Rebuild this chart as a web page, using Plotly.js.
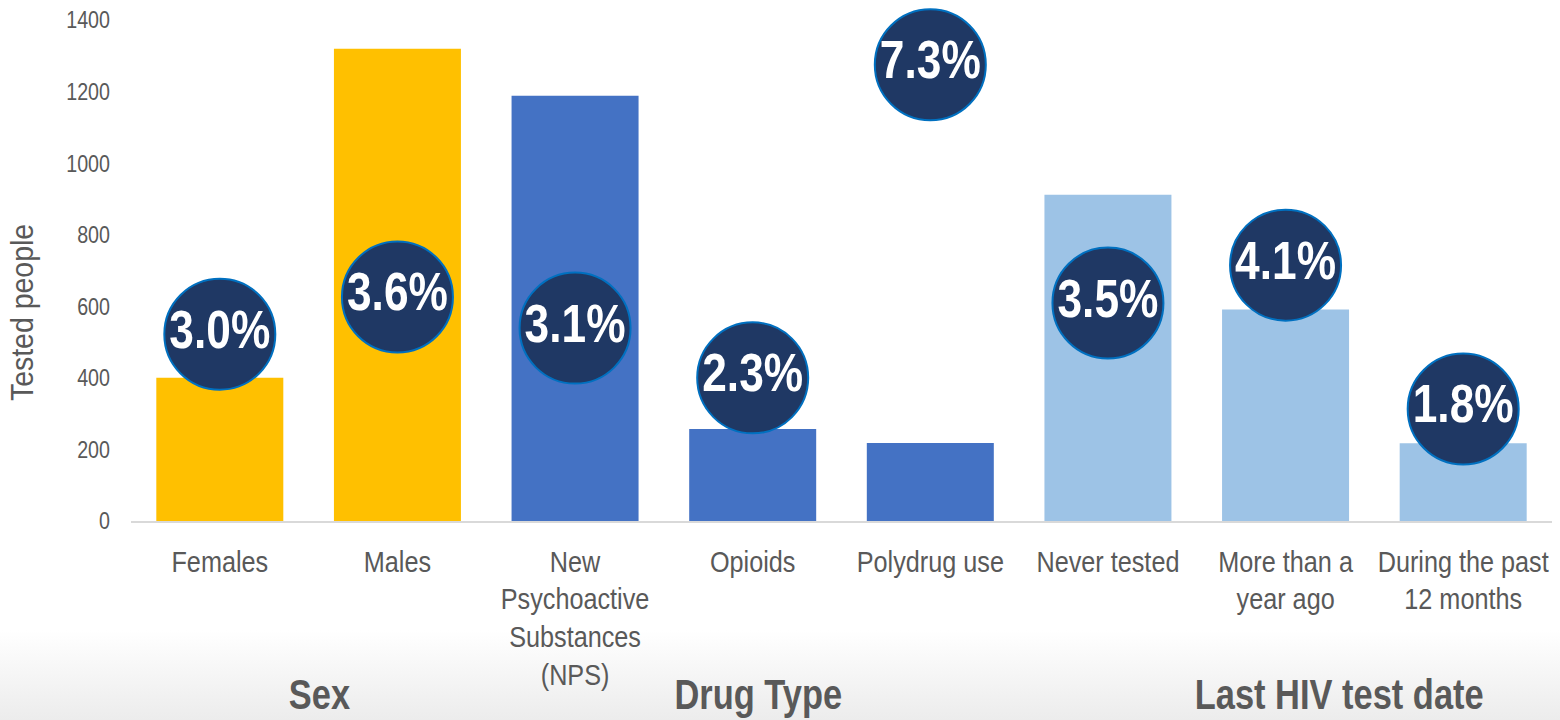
<!DOCTYPE html>
<html>
<head>
<meta charset="utf-8">
<script src="https://cdn.plot.ly/plotly-3.0.1.min.js"></script>
<style>
  html, body { margin: 0; padding: 0; }
  body {
    width: 1560px; height: 720px; overflow: hidden;
    background: linear-gradient(to bottom, #ffffff 0px, #ffffff 630px, #ececec 720px);
  }
  #chart { width: 1560px; height: 720px; }
</style>
</head>
<body>
<div id="chart"></div>
<script>
// ---- data ----
const categories = [
  "Females", "Males", "New<br>Psychoactive<br>Substances<br>(NPS)", "Opioids",
  "Polydrug use", "Never tested", "More than a<br>year ago", "During the past<br>12 months"
];
const testedPeople = [400, 1320, 1188, 257, 218, 912, 591, 217];
const positivityLabels = ["3.0%", "3.6%", "3.1%", "2.3%", "7.3%", "3.5%", "4.1%", "1.8%"];
const labelHeights = [522, 626, 539, 400, 1275, 609, 715, 313];
const groupNames = ["Sex", "Drug Type", "Last HIV test date"];
const groupPositions = [0.56, 3.03, 6.3];
const groupOf = [0, 0, 1, 1, 1, 2, 2, 2];
const groupColors = ["#FFC000", "#4472C4", "#9DC3E6"];
const yTitle = "Tested people";

const FONT = "'Liberation Sans Narrow', 'Arial Narrow', 'Liberation Sans', Arial, sans-serif";
const GREY = "#595959";

const bars = {
  type: "bar",
  x: categories,
  y: testedPeople,
  marker: { color: groupOf.map(g => groupColors[g]) },
  hoverinfo: "x+y",
  showlegend: false
};

const bubbles = {
  type: "scatter",
  mode: "markers+text",
  x: categories,
  y: labelHeights,
  text: positivityLabels,
  textposition: "middle center",
  textfont: { family: FONT, size: 54, color: "#ffffff", weight: "bold" },
  marker: { size: 111, color: "#1F3864", line: { color: "#0070C0", width: 2 } },
  cliponaxis: false,
  hoverinfo: "text",
  showlegend: false
};

const annotations = groupNames.map((name, i) => ({
  text: "<b>" + name + "</b>",
  x: groupPositions[i],
  xref: "x",
  y: -0.347,
  yref: "paper",
  xanchor: "center",
  yanchor: "middle",
  showarrow: false,
  font: { family: FONT, size: 42, color: GREY }
}));
annotations.push({
  text: yTitle,
  textangle: -90,
  x: -0.0767,
  xref: "paper",
  y: 0.415,
  yref: "paper",
  xanchor: "center",
  yanchor: "middle",
  showarrow: false,
  font: { family: FONT, size: 32, color: GREY }
});

const layout = {
  width: 1560,
  height: 720,
  margin: { l: 131, r: 8, t: 20, b: 199 },
  paper_bgcolor: "rgba(0,0,0,0)",
  plot_bgcolor: "rgba(0,0,0,0)",
  bargap: 0.285,
  showlegend: false,
  xaxis: {
    type: "category",
    range: [-0.5, 7.5],
    showgrid: false,
    showline: true,
    linecolor: "#D9D9D9",
    linewidth: 2,
    ticks: "",
    tickangle: 0,
    ticklabelstandoff: 14,
    tickfont: { family: FONT, size: 29, color: GREY },
    automargin: false
  },
  yaxis: {
    range: [0, 1400],
    dtick: 200,
    showgrid: false,
    zeroline: false,
    showline: false,
    ticks: "",
    ticklabelstandoff: 20,
    tickfont: { family: FONT, size: 24, color: GREY },
    automargin: false
  },
  annotations: annotations
};

// horizontal condensing to imitate Arial Narrow (no narrow face installed)
function condenseFactor(t) {
  if (t.textContent.trim() === yTitle) return 0.89;
  if (t.closest(".xtick")) return 0.87;
  return 0.82;
}

function condense(root) {
  root.querySelectorAll("svg text").forEach(t => {
    if (!t.textContent.trim()) return;
    let bb;
    try { bb = t.getBBox(); } catch (e) { return; }
    const k = condenseFactor(t);
    const anchor = t.getAttribute("text-anchor") || "start";
    let cx = bb.x + bb.width / 2;
    if (anchor === "end") cx = bb.x + bb.width;
    else if (anchor === "start") cx = bb.x;
    const prev = t.getAttribute("transform") || "";
    t.setAttribute("transform",
      (prev + " translate(" + cx + ",0) scale(" + k + ",1) translate(" + (-cx) + ",0)").trim());
  });
}

Plotly.newPlot("chart", [bars, bubbles], layout, { displayModeBar: false, staticPlot: true })
  .then(gd => condense(gd));
</script>
</body>
</html>
